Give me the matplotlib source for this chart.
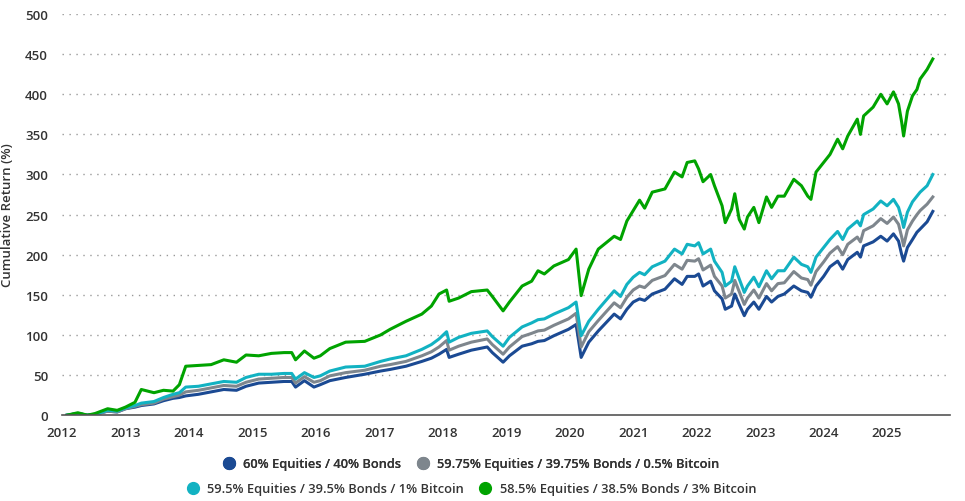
import matplotlib
matplotlib.use('Agg')
import matplotlib.pyplot as plt
from matplotlib.lines import Line2D

# decimal years, values (cumulative return, %)
dates = [2012.08, 2012.25, 2012.4, 2012.52, 2012.72, 2012.87, 2013.0, 2013.15, 2013.25, 2013.45,
         2013.6, 2013.75, 2013.85, 2013.95, 2014.15, 2014.35, 2014.55, 2014.75, 2014.9, 2015.1,
         2015.3, 2015.5, 2015.62, 2015.68, 2015.82, 2015.97, 2016.07, 2016.22, 2016.47, 2016.77,
         2017.02, 2017.17, 2017.42, 2017.67, 2017.82, 2017.94, 2018.06, 2018.1, 2018.25, 2018.45,
         2018.7, 2018.78, 2018.95, 2019.05, 2019.25, 2019.4, 2019.5, 2019.6, 2019.75, 2019.98,
         2020.1, 2020.18, 2020.3, 2020.45, 2020.7, 2020.8, 2020.9, 2021.0, 2021.1, 2021.18,
         2021.3, 2021.5, 2021.65, 2021.77, 2021.85, 2021.97, 2022.03, 2022.1, 2022.22, 2022.28,
         2022.4, 2022.45, 2022.55, 2022.6, 2022.67, 2022.75, 2022.8, 2022.9, 2022.98, 2023.1,
         2023.18, 2023.28, 2023.38, 2023.53, 2023.65, 2023.75, 2023.8, 2023.88, 2024.0, 2024.1,
         2024.22, 2024.3, 2024.38, 2024.53, 2024.58, 2024.63, 2024.78, 2024.9, 2025.0, 2025.1,
         2025.18, 2025.23, 2025.26, 2025.32, 2025.4, 2025.47, 2025.52, 2025.63, 2025.72]

btc_0 = [0, 2, 0, 1, 5, 4, 8, 10, 12, 14,
         18, 21, 22, 24, 26, 29, 32, 31, 36, 40,
         41, 42, 42, 35, 43, 35, 38, 43, 47, 51,
         55, 57, 61, 67, 71, 76, 82, 72, 76, 81,
         85, 78, 66, 74, 86, 89, 92, 93, 99, 107,
         113, 72, 91, 105, 126, 120, 132, 141, 145, 143,
         151, 157, 170, 163, 173, 173, 176, 161, 167, 155,
         145, 132, 136, 151, 138, 124, 132, 141, 132, 148,
         141, 148, 151, 161, 155, 153, 147, 161, 173, 185,
         192, 182, 194, 203, 197, 211, 216, 223, 217, 226,
         217, 200, 192, 209, 219, 228, 232, 241, 254]

btc_05 = [0, 2, 0, 1, 5, 4, 8, 11, 13, 15,
          20, 23, 25, 29, 31, 34, 37, 36, 41, 45,
          46, 47, 47, 40, 48, 41, 43, 49, 53, 56,
          61, 63, 67, 74, 79, 85, 93, 81, 86, 91,
          95, 88, 76, 85, 98, 102, 105, 106, 112, 120,
          127, 85, 104, 118, 140, 134, 147, 156, 161, 159,
          168, 174, 188, 182, 193, 192, 195, 181, 187, 173,
          161, 146, 151, 168, 154, 138, 146, 156, 146, 164,
          155, 164, 165, 179, 171, 169, 162, 179, 191, 202,
          210, 200, 213, 222, 216, 230, 236, 245, 239, 247,
          238, 222, 211, 231, 242, 250, 255, 263, 272]

btc_1 = [0, 2, 0, 1, 6, 5, 9, 12, 15, 17,
         22, 26, 28, 35, 36, 39, 42, 41, 47, 51,
         51, 52, 52, 45, 53, 47, 49, 55, 60, 61,
         67, 70, 74, 82, 88, 95, 104, 91, 97, 102,
         105, 98, 86, 97, 110, 115, 119, 120, 126, 134,
         141, 99, 117, 132, 155, 148, 163, 172, 178, 175,
         185, 192, 207, 201, 213, 211, 215, 201, 207, 192,
         178, 161, 167, 185, 170, 153, 161, 172, 160, 180,
         170, 180, 180, 197, 188, 185, 178, 197, 209, 219,
         229, 219, 232, 242, 236, 250, 257, 267, 261, 269,
         259, 245, 234, 253, 266, 273, 278, 286, 300]

btc_3 = [0, 3, 0, 2, 8, 6, 10, 16, 32, 28,
         31, 30, 38, 61, 62, 63, 69, 66, 75, 74,
         77, 78, 78, 69, 80, 71, 74, 83, 91, 92,
         100, 107, 117, 126, 136, 151, 156, 142, 146, 154,
         156, 148, 130, 141, 161, 167, 180, 176, 186, 194,
         207, 149, 182, 207, 223, 219, 242, 255, 268, 258,
         278, 282, 303, 297, 315, 317, 307, 291, 300, 286,
         261, 240, 257, 276, 244, 232, 247, 259, 240, 272,
         259, 273, 273, 294, 286, 273, 269, 303, 315, 325,
         344, 332, 348, 369, 350, 373, 384, 400, 388, 403,
         388, 365, 348, 379, 398, 406, 419, 431, 444]

labels = ['60% Equities / 40% Bonds',
          '59.75% Equities / 39.75% Bonds / 0.5% Bitcoin',
          '59.5% Equities / 39.5% Bonds / 1% Bitcoin',
          '58.5% Equities / 38.5% Bonds / 3% Bitcoin']
colors = ['#1b4a93', '#7e868d', '#12b2c2', '#00a300']
years = list(range(2012, 2026))

plt.rcParams['font.family'] = ['Open Sans', 'DejaVu Sans']
text_col = '#333333'

fig = plt.figure(figsize=(9.65, 5.02), dpi=100)
ax = fig.add_axes([0.0642, 0.171, 0.9202, 0.799])

for vals, col in zip([btc_0, btc_05, btc_1, btc_3], colors):
    ax.plot(dates, vals, color=col, linewidth=2.2, solid_joinstyle='round')

ax.set_xlim(2012.063, 2025.99)
ax.set_ylim(0, 500)
ax.set_yticks(range(0, 501, 50))
ax.set_xticks(years)
ax.set_xticklabels([str(y) for y in years])
for y in range(50, 501, 50):
    ax.axhline(y, color='#999999', linestyle=(0, (1, 4)), linewidth=1.0, zorder=0)

for s in ['top', 'right', 'left']:
    ax.spines[s].set_visible(False)
ax.spines['bottom'].set_color('#555555')
ax.spines['bottom'].set_linewidth(1.2)
ax.tick_params(length=0, labelsize=9.5, labelcolor=text_col)
ax.tick_params(axis='y', pad=10)
ax.tick_params(axis='x', pad=8)
for t in ax.get_xticklabels() + ax.get_yticklabels():
    t.set_fontweight('semibold')
ax.set_ylabel('Cumulative Return (%)', fontsize=9.5, fontweight='semibold', color=text_col)
ax.yaxis.set_label_coords(-0.0545, 0.5)

def handle(c):
    return Line2D([], [], marker='o', linestyle='none', markersize=8.5,
                  markerfacecolor=c, markeredgecolor=c)

kw = dict(loc='center', frameon=False, ncol=2, handletextpad=0.1, columnspacing=0.7,
          prop={'size': 9.25, 'weight': 'semibold'}, labelcolor=text_col)
leg1 = fig.legend([handle(colors[0]), handle(colors[1])], labels[:2],
                  bbox_to_anchor=(0.485, 0.074), **kw)
fig.add_artist(leg1)
fig.legend([handle(colors[2]), handle(colors[3])], labels[2:],
           bbox_to_anchor=(0.485, 0.024), **kw)

fig.savefig('out.png', dpi=100)
